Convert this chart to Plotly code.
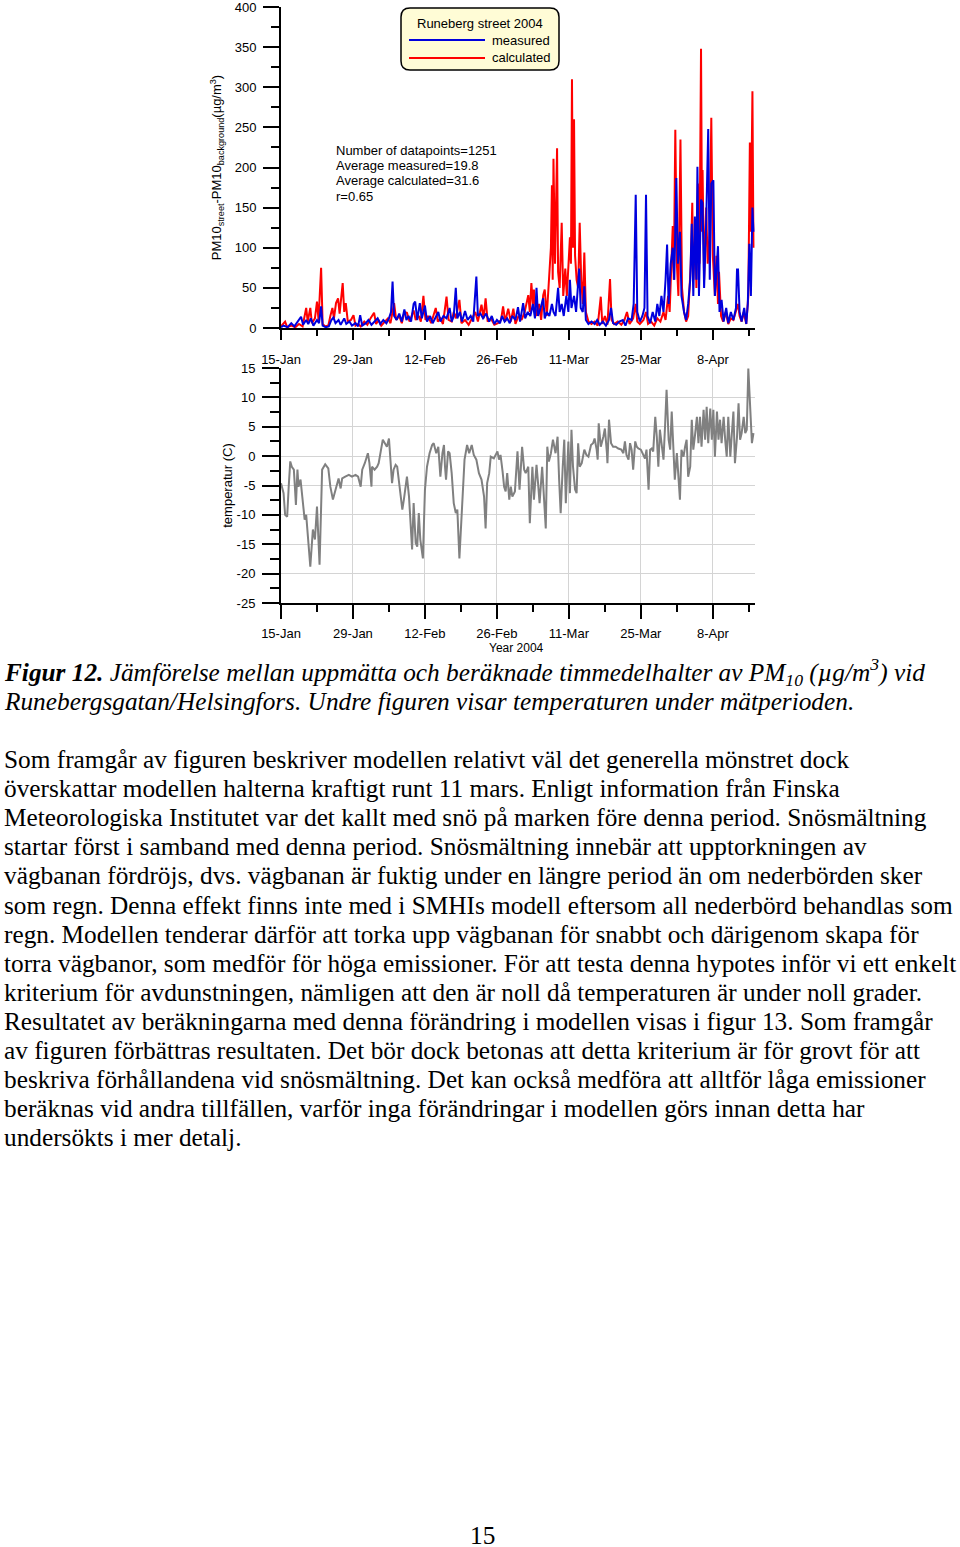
import plotly.graph_objects as go

# ---------------- DATA ----------------
# x = days after 15-Jan-2004
date_tickvals = [0, 14, 28, 42, 56, 70, 84]
date_ticktext = ["15-Jan", "29-Jan", "12-Feb", "26-Feb", "11-Mar", "25-Mar", "8-Apr"]
date_minor = [7, 21, 35, 49, 63, 77, 91]

pm_tickvals = [0, 50, 100, 150, 200, 250, 300, 350, 400]
temp_tickvals = [15, 10, 5, 0, -5, -10, -15, -20, -25]
temp_ticktext = ["15", "10", "5", "0", "-5", "-10", "-15", "-20", "-25"]

calc_day = [0.0, 0.8, 1.2, 2.0, 2.8, 3.5, 4.2, 4.9, 5.2, 5.7, 6.0, 6.6, 7.0, 7.3, 7.8, 8.1, 8.6, 9.2, 9.6, 10.0,
            10.3, 10.7, 11.1, 11.4, 12.0, 12.3, 12.6, 13.0, 13.6, 14.1, 14.5, 15.0, 15.5, 16.2, 16.8, 17.4, 18.1, 18.5, 19.0, 19.5,
            20.2, 20.8, 21.3, 22.0, 22.4, 23.0, 23.5, 24.0, 24.5, 25.0, 25.8, 26.2, 26.8, 27.2, 27.7, 28.1, 28.6, 29.2, 30.1, 30.5,
            31.0, 31.5, 32.2, 32.6, 33.2, 33.6, 34.0, 34.7, 35.1, 35.8, 36.5, 37.2, 37.8, 38.3, 39.0, 39.4, 39.8, 40.2, 40.8, 41.5,
            42.2, 42.8, 43.2, 43.6, 44.2, 44.7, 45.2, 45.6, 46.2, 46.8, 47.4, 48.1, 48.4, 48.7, 49.0, 49.2, 49.6, 50.2, 50.6, 51.0,
            51.3, 51.7, 52.2, 52.5, 52.7, 52.85, 53.0, 53.3, 53.7, 53.9, 54.2, 54.6, 54.9, 55.3, 55.6, 56.0, 56.2, 56.4, 56.6, 56.8,
            57.0, 57.2, 57.5, 57.8, 58.1, 58.4, 58.7, 59.0, 59.3, 59.8, 60.4, 61.0, 61.6, 62.2, 62.5, 63.0, 63.5, 64.0, 64.3, 64.8,
            65.5, 66.2, 66.8, 67.3, 67.8, 68.5, 69.0, 69.3, 69.8, 70.5, 71.0, 71.4, 72.0, 72.6, 73.2, 73.8, 74.4, 74.8, 75.3, 75.6,
            76.2, 76.4, 76.7, 77.0, 77.3, 77.7, 78.0, 78.4, 78.8, 79.2, 79.7, 80.0, 80.2, 80.6, 80.8, 81.1, 81.4, 81.7, 81.9, 82.0,
            82.3, 82.7, 83.0, 83.4, 83.7, 84.0, 84.4, 84.7, 85.0, 85.2, 85.6, 86.0, 86.5, 87.0, 87.5, 88.0, 88.5, 88.9, 89.2, 89.6,
            90.0, 90.5, 90.9, 91.2, 91.4, 91.7, 91.9]
calc_val = [2, 8, 1, 3, 1, 5, 2, 25, 8, 25, 6, 12, 33, 10, 75, 5, 2, 3, 15, 25,
            12, 31, 37, 18, 56, 20, 31, 8, 10, 16, 3, 5, 2, 8, 4, 12, 19, 5, 10, 3,
            8, 12, 6, 31, 10, 15, 6, 20, 19, 8, 22, 10, 15, 8, 40, 10, 15, 6, 25, 8,
            12, 5, 39, 10, 8, 20, 12, 35, 6, 10, 4, 12, 20, 8, 29, 12, 37, 8, 12, 4,
            6, 10, 27, 8, 24, 8, 24, 5, 15, 10, 20, 41, 20, 56, 30, 48, 15, 30, 10, 41,
            48, 15, 60, 100, 178, 60, 211, 80, 224, 70, 50, 131, 40, 74, 40, 98, 113, 80, 310, 100,
            260, 90, 60, 50, 131, 60, 30, 94, 20, 8, 5, 8, 3, 39, 5, 15, 4, 61, 10, 5,
            8, 4, 10, 20, 5, 12, 30, 8, 5, 10, 20, 5, 8, 3, 12, 8, 20, 10, 40, 20,
            127, 60, 247, 80, 40, 235, 50, 20, 8, 15, 79, 156, 60, 120, 50, 180, 80, 348, 120, 197,
            60, 150, 80, 120, 262, 90, 40, 90, 30, 70, 15, 8, 20, 5, 12, 10, 20, 30, 15, 8,
            20, 5, 40, 231, 120, 295, 100]

meas_day = [0.0, 0.5, 1.3, 2.0, 2.6, 3.3, 3.9, 4.3, 4.9, 5.3, 5.8, 6.3, 7.0, 7.4, 7.8, 8.1, 8.7, 9.3, 9.8, 10.2,
            10.6, 11.2, 11.6, 12.3, 12.7, 13.3, 13.8, 14.5, 15.0, 15.4, 15.8, 16.5, 17.0, 17.6, 18.2, 18.8, 19.3, 19.9, 20.5, 21.0,
            21.4, 21.7, 22.0, 22.5, 23.0, 23.5, 24.0, 24.4, 24.8, 25.3, 25.8, 26.1, 26.5, 27.0, 27.4, 28.0, 28.4, 29.0, 29.5, 30.0,
            30.6, 31.0, 31.6, 32.2, 32.8, 33.2, 33.6, 34.0, 34.3, 34.8, 35.2, 35.8, 36.3, 36.9, 37.4, 38.0, 38.3, 38.8, 39.3, 39.9,
            40.5, 41.0, 41.5, 42.0, 42.6, 43.0, 43.5, 44.0, 44.5, 45.0, 45.6, 46.1, 46.5, 47.1, 47.5, 48.0, 48.5, 49.0, 49.4, 49.7,
            50.0, 50.5, 51.0, 51.3, 51.7, 52.2, 52.7, 53.0, 53.4, 53.9, 54.2, 54.6, 55.0, 55.5, 55.9, 56.2, 56.5, 57.0, 57.4, 58.0,
            58.3, 58.7, 59.0, 59.3, 59.8, 60.4, 61.0, 61.5, 62.0, 62.6, 63.2, 63.8, 64.2, 64.6, 65.2, 65.8, 66.5, 67.0, 67.5, 68.2,
            68.6, 69.0, 69.3, 69.8, 70.3, 70.7, 71.0, 71.3, 71.8, 72.3, 72.8, 73.2, 73.6, 74.0, 74.4, 74.8, 75.1, 75.4, 75.8, 76.2,
            76.5, 76.9, 77.2, 77.6, 77.9, 78.4, 78.8, 79.2, 79.6, 79.9, 80.2, 80.5, 80.8, 81.0, 81.3, 81.7, 82.0, 82.3, 82.7, 83.1,
            83.4, 83.7, 84.1, 84.4, 84.7, 85.0, 85.3, 85.7, 86.1, 86.6, 87.0, 87.5, 88.0, 88.5, 88.7, 88.9, 89.2, 89.6, 90.1, 90.5,
            90.8, 91.1, 91.4, 91.7, 91.9]
meas_val = [1, 3, 1, 6, 2, 8, 14, 4, 10, 5, 12, 3, 10, 6, 27, 3, 1, 2, 10, 13,
            6, 10, 4, 12, 5, 8, 3, 6, 2, 16, 3, 6, 10, 4, 8, 12, 5, 10, 6, 12,
            20, 58, 15, 10, 18, 8, 23, 10, 15, 8, 30, 33, 10, 31, 12, 28, 8, 15, 6, 12,
            20, 8, 15, 12, 25, 8, 15, 50, 12, 20, 8, 21, 10, 15, 8, 64, 15, 18, 12, 18,
            8, 15, 5, 10, 6, 15, 8, 12, 6, 15, 10, 26, 8, 31, 12, 20, 15, 30, 12, 50,
            15, 25, 37, 12, 20, 15, 30, 20, 15, 50, 20, 30, 15, 40, 20, 60, 25, 40, 20, 74,
            25, 20, 52, 10, 5, 8, 5, 10, 4, 8, 3, 10, 25, 6, 4, 8, 10, 3, 12, 10,
            30, 166, 20, 8, 15, 25, 166, 15, 6, 20, 8, 30, 15, 40, 20, 60, 104, 30, 80, 100,
            60, 187, 80, 120, 40, 20, 10, 30, 60, 130, 40, 139, 60, 201, 40, 160, 156, 50, 130, 248,
            60, 180, 184, 40, 70, 102, 20, 35, 8, 25, 6, 20, 10, 25, 73, 73, 20, 8, 25, 5,
            30, 105, 40, 150, 120]

temp_day = [0.0, 0.5, 0.8, 1.2, 1.5, 1.8, 2.1, 2.5, 2.7, 2.9, 3.2, 3.4, 3.8, 4.1, 4.6, 4.9, 5.3, 5.7, 6.2, 6.6,
            7.0, 7.2, 7.5, 8.0, 8.6, 9.2, 9.6, 10.1, 10.6, 11.2, 11.6, 11.9, 12.5, 13.2, 13.8, 14.5, 15.0, 15.5, 15.8, 16.3,
            16.9, 17.2, 17.6, 17.7, 18.2, 18.7, 19.0, 19.5, 19.8, 20.2, 20.6, 21.0, 21.3, 21.6, 21.9, 22.3, 22.6, 22.9, 23.2, 23.6,
            23.9, 24.2, 24.5, 24.9, 25.2, 25.5, 25.8, 26.2, 26.5, 26.8, 27.1, 27.6, 28.0, 28.4, 28.9, 29.4, 29.7, 30.2, 30.6, 30.8,
            31.0, 31.4, 31.7, 31.9, 32.1, 32.5, 32.8, 33.2, 33.6, 34.0, 34.3, 34.7, 35.3, 35.7, 36.2, 36.6, 37.1, 37.5, 38.0, 38.5,
            39.0, 39.5, 39.8, 40.1, 40.5, 40.8, 41.4, 42.1, 42.4, 42.7, 43.1, 43.4, 43.7, 44.0, 44.4, 44.7, 45.0, 45.5, 46.0, 46.4,
            46.9, 47.3, 47.6, 48.1, 48.4, 48.9, 49.2, 49.7, 50.0, 50.3, 50.8, 51.2, 51.5, 51.8, 52.1, 52.5, 52.9, 53.4, 53.8, 54.1,
            54.4, 54.8, 55.1, 55.4, 55.9, 56.2, 56.5, 56.8, 57.2, 57.5, 57.8, 58.1, 58.5, 59.0, 59.4, 59.8, 60.3, 60.7, 61.0, 61.4,
            61.6, 61.8, 62.2, 62.7, 63.0, 63.4, 63.5, 63.8, 64.2, 64.6, 65.1, 65.6, 66.2, 66.6, 66.9, 67.2, 67.6, 67.9, 68.2, 68.5,
            68.9, 69.2, 69.5, 70.0, 70.5, 70.8, 71.1, 71.5, 71.8, 72.1, 72.4, 72.8, 73.1, 73.4, 73.7, 74.1, 74.4, 74.7, 75.0, 75.4,
            75.7, 76.0, 76.3, 76.6, 77.0, 77.3, 77.6, 77.9, 78.3, 78.6, 78.9, 79.2, 79.6, 79.9, 80.2, 80.5, 80.9, 81.2, 81.5, 81.8,
            82.2, 82.5, 82.8, 83.1, 83.5, 83.8, 84.1, 84.4, 84.8, 85.1, 85.4, 85.7, 86.1, 86.4, 86.7, 87.0, 87.4, 87.7, 88.0, 88.3,
            88.7, 89.0, 89.3, 89.6, 90.0, 90.3, 90.6, 90.9, 91.2, 91.6, 91.9]
temp_c = [-4.6, -6.3, -10.0, -10.3, -5.2, -0.9, -1.8, -2.3, -5.2, -8.3, -2.3, -5.2, -4.0, -6.9, -10.8, -10.0, -14.2, -18.8, -12.5, -14.2,
          -8.6, -14.2, -18.5, -2.3, -1.4, -2.1, -5.2, -7.4, -5.7, -3.8, -5.5, -3.8, -3.5, -3.2, -3.5, -3.2, -3.5, -5.2, -2.3, -1.2,
          0.5, -1.2, -5.2, -1.8, -2.3, -1.8, -1.2, 1.1, 2.8, 2.2, 1.6, 3.0, -1.8, -4.6, -2.3, -1.5, -1.8, -4.0, -6.9, -9.1,
          -7.4, -5.7, -3.5, -6.9, -11.4, -15.9, -8.0, -14.8, -15.4, -9.7, -14.2, -17.4, -5.7, -1.8, 0.5, 1.9, 2.2, 0.5, 1.6, -2.3,
          -3.5, 0.5, 1.9, -1.8, -4.0, 0.8, 0.5, -2.9, -8.0, -9.7, -9.1, -17.4, -5.7, -0.6, 1.9, 0.5, 1.9, 0.2, -0.6, -2.9,
          -4.0, -6.9, -12.3, -4.6, -2.9, -0.1, -0.4, 0.8, -0.6, 0.2, -2.6, -5.2, -6.0, -2.9, -7.4, -5.2, -6.9, -6.0, 0.8, -5.7,
          1.6, -2.3, -2.9, -1.8, -11.4, -1.8, -7.4, -1.5, -4.6, -8.0, -1.8, -9.1, -12.3, 1.6, -0.9, 0.5, 2.8, 0.5, 3.3, -4.0,
          -9.7, -1.8, 2.8, -8.0, 2.5, -6.3, 4.5, -1.8, -5.7, -6.3, 2.2, -1.8, -1.2, 1.1, 0.2, -0.1, 1.9, 2.2, 3.0, 1.1,
          -0.6, 5.6, 1.6, 3.3, 4.7, 0.5, -1.2, 6.2, 2.2, 1.6, 1.6, 1.3, 1.1, 0.5, 2.5, 0.2, -0.6, 2.2, 1.1, -2.3,
          2.5, 1.6, 1.3, 1.1, 0.2, -0.4, 1.1, -5.7, 1.1, 1.3, 0.8, 6.7, 3.3, -1.8, 4.5, 1.6, -0.6, 5.0, 11.3, 2.8,
          1.1, 7.6, 0.5, -4.0, 0.5, -2.9, -7.4, 1.1, -0.1, 1.6, 2.8, -3.5, -1.8, 6.2, 1.1, 3.3, 6.7, 2.2, 6.7, 1.6,
          7.9, 2.8, 8.4, 2.2, 8.1, 2.8, 7.9, -0.1, 7.6, 2.8, 6.2, 2.2, 6.7, 2.8, -0.1, 6.7, -0.1, 3.9, 7.6, -1.2,
          3.3, 9.0, 2.8, 3.9, 6.7, 3.9, 4.5, 14.9, 8.4, 2.2, 3.9]

stats_lines = ["Number of datapoints=1251", "Average measured=19.8",
               "Average calculated=31.6", "r=0.65"]

caption_lines = [
    "<b><i>Figur 12.</i></b><i> Jämförelse mellan uppmätta och beräknade timmedelhalter av PM<sub>10</sub> (µg/m<sup>3</sup>) vid</i>",
    "<i>Runebergsgatan/Helsingfors. Undre figuren visar temperaturen under mätperioden.</i>",
]
body_lines = [
    "Som framgår av figuren beskriver modellen relativt väl det generella mönstret dock",
    "överskattar modellen halterna kraftigt runt 11 mars. Enligt information från Finska",
    "Meteorologiska Institutet var det kallt med snö på marken före denna period. Snösmältning",
    "startar först i samband med denna period. Snösmältning innebär att upptorkningen av",
    "vägbanan fördröjs, dvs. vägbanan är fuktig under en längre period än om nederbörden sker",
    "som regn. Denna effekt finns inte med i SMHIs modell eftersom all nederbörd behandlas som",
    "regn. Modellen tenderar därför att torka upp vägbanan för snabbt och därigenom skapa för",
    "torra vägbanor, som medför för höga emissioner. För att testa denna hypotes inför vi ett enkelt",
    "kriterium för avdunstningen, nämligen att den är noll då temperaturen är under noll grader.",
    "Resultatet av beräkningarna med denna förändring i modellen visas i figur 13. Som framgår",
    "av figuren förbättras resultaten. Det bör dock betonas att detta kriterium är för grovt för att",
    "beskriva förhållandena vid snösmältning. Det kan också medföra att alltför låga emissioner",
    "beräknas vid andra tillfällen, varför inga förändringar i modellen görs innan detta har",
    "undersökts i mer detalj.",
]

# ---------------- LAYOUT HELPERS ----------------
W, H = 960, 1547


def px(x):
    return x / W


def py(y):
    return 1 - y / H


SANS = "Arial, Liberation Sans, sans-serif"
SERIF = "Liberation Serif, Times New Roman, serif"
TXT = 25.3
XR = [0, 92.2]

fig = go.Figure()
fig.add_trace(go.Scatter(x=calc_day, y=calc_val, mode="lines", line=dict(color="#ff0000", width=2),
                         xaxis="x", yaxis="y", name="calculated"))
fig.add_trace(go.Scatter(x=meas_day, y=meas_val, mode="lines", line=dict(color="#0000dd", width=2),
                         xaxis="x", yaxis="y", name="measured"))
fig.add_trace(go.Scatter(x=temp_day, y=temp_c, mode="lines", line=dict(color="#808080", width=2),
                         xaxis="x2", yaxis="y2", name="temperatur"))

axis_common = dict(showline=True, linecolor="black", linewidth=2, ticks="outside", tickcolor="black",
                   tickwidth=2, zeroline=False, automargin=False, ticklabeloverflow="allow",
                   tickfont=dict(family=SANS, size=13, color="black"))

fig.update_layout(
    width=W, height=H, margin=dict(l=0, r=0, t=0, b=0, pad=0), autosize=False,
    paper_bgcolor="white", plot_bgcolor="white", showlegend=False,
    xaxis=dict(domain=[px(281), px(755)], anchor="y", range=XR, tickmode="array",
               tickvals=date_tickvals, ticktext=date_ticktext, ticklen=10, showgrid=False,
               minor=dict(tickmode="array", tickvals=date_minor, ticklen=6, tickwidth=2,
                          tickcolor="black", ticks="outside", showgrid=False),
               ticklabelstandoff=8, **axis_common),
    yaxis=dict(domain=[py(328), py(7)], anchor="x", range=[0, 400], tickmode="array",
               tickvals=pm_tickvals, ticklen=16, showgrid=False, ticklabelstandoff=4,
               minor=dict(tickmode="linear", tick0=0, dtick=25, ticklen=8, tickwidth=2, tickcolor="black",
                          ticks="outside", showgrid=False),
               title=dict(text="PM10<sub>street</sub>-PM10<sub>background</sub>(µg/m<sup>3</sup>)",
                          font=dict(family=SANS, size=13, color="black"), standoff=10),
               **axis_common),
    xaxis2=dict(domain=[px(281), px(755)], anchor="y2", range=XR, tickmode="array",
                tickvals=date_tickvals, ticktext=date_ticktext, ticklen=14, showgrid=True,
                gridcolor="#d4d4d4", gridwidth=1,
                minor=dict(tickmode="array", tickvals=date_minor, ticklen=7, tickwidth=2,
                           tickcolor="black", ticks="outside", showgrid=False),
                ticklabelstandoff=3, **axis_common),
    yaxis2=dict(domain=[py(603), py(368)], anchor="x2", range=[-25, 15], tickmode="array",
                tickvals=temp_tickvals, ticktext=temp_ticktext,
                ticklen=17, showgrid=True, gridcolor="#d4d4d4", gridwidth=1, ticklabelstandoff=4,
                minor=dict(tickmode="linear", tick0=-25, dtick=2.5, ticklen=9, tickwidth=2, tickcolor="black",
                           ticks="outside", showgrid=False),
                title=dict(text="temperatur (C)", font=dict(family=SANS, size=13, color="black"), standoff=1),
                **axis_common),
)


def rounded_rect(x0, y0, x1, y1, r):
    pts = [("M", [(x0 + r, y0)]), ("L", [(x1 - r, y0)]), ("Q", [(x1, y0), (x1, y0 + r)]),
           ("L", [(x1, y1 - r)]), ("Q", [(x1, y1), (x1 - r, y1)]), ("L", [(x0 + r, y1)]),
           ("Q", [(x0, y1), (x0, y1 - r)]), ("L", [(x0, y0 + r)]), ("Q", [(x0, y0), (x0 + r, y0)])]
    s = ""
    for cmd, ps in pts:
        s += cmd + " " + " ".join(f"{px(a):.5f},{py(b):.5f}" for a, b in ps) + " "
    return s + "Z"


shapes = [
    dict(type="path", xref="paper", yref="paper", path=rounded_rect(401, 8, 559, 70, 9),
         fillcolor="#fffcd6", line=dict(color="black", width=1.5), layer="above"),
    dict(type="line", xref="paper", yref="paper", x0=px(409), x1=px(485), y0=py(40), y1=py(40),
         line=dict(color="#0000dd", width=2)),
    dict(type="line", xref="paper", yref="paper", x0=px(409), x1=px(485), y0=py(58), y1=py(58),
         line=dict(color="#ff0000", width=2)),
]
fig.update_layout(shapes=shapes)

ann = []
ann.append(dict(text="Runeberg street 2004", x=px(480), y=py(24), xanchor="center", yanchor="middle"))
ann.append(dict(text="measured", x=px(552), y=py(40), xanchor="right", yanchor="middle"))
ann.append(dict(text="calculated", x=px(553), y=py(58), xanchor="right", yanchor="middle"))
for i, t in enumerate(stats_lines):
    ann.append(dict(text=t, x=px(334), y=py(150.5 + 15.2 * i), xanchor="left", yanchor="middle"))
ann.append(dict(text="Year 2004", x=px(516), y=py(648), xanchor="center", yanchor="middle",
                font=dict(family=SANS, size=12, color="black")))
for a in ann:
    a.update(xref="paper", yref="paper", showarrow=False)
    a.setdefault("font", dict(family=SANS, size=13, color="black"))

for i, t in enumerate(caption_lines):
    ann.append(dict(text=t, x=px(2), y=py(672 + 29 * i), xref="paper", yref="paper", xanchor="left",
                    yanchor="middle", showarrow=False, font=dict(family=SERIF, size=TXT, color="black")))
for i, t in enumerate(body_lines):
    ann.append(dict(text=t, x=px(2), y=py(759 + 29.1 * i), xref="paper", yref="paper", xanchor="left",
                    yanchor="middle", showarrow=False, font=dict(family=SERIF, size=TXT, color="black")))
ann.append(dict(text="15", x=px(482), y=py(1535), xref="paper", yref="paper", xanchor="center",
                yanchor="middle", showarrow=False, font=dict(family=SERIF, size=TXT, color="black")))
fig.update_layout(annotations=ann)

fig.write_html("out.html")
